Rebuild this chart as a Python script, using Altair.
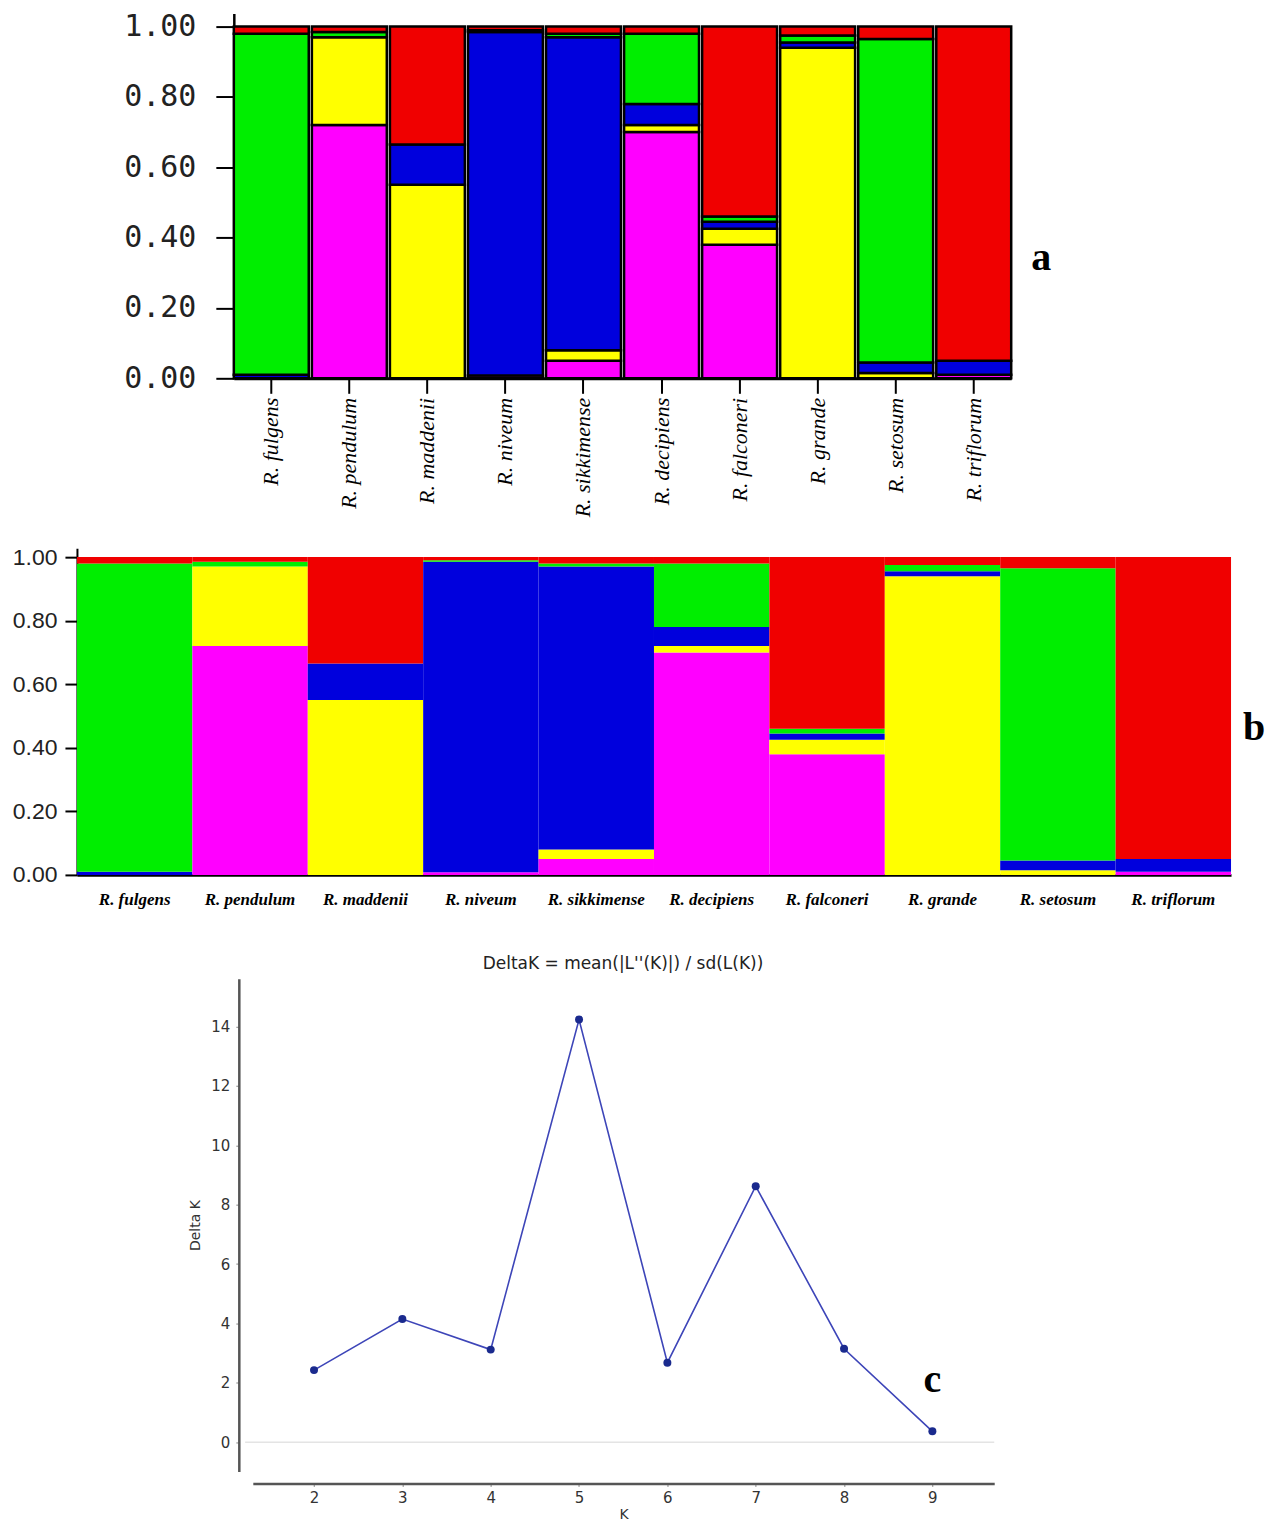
import altair as alt
import pandas as pd

# ---------------- data ----------------
species = ["R. fulgens", "R. pendulum", "R. maddenii", "R. niveum", "R. sikkimense",
           "R. decipiens", "R. falconeri", "R. grande", "R. setosum", "R. triflorum"]

cluster_names = ["Cluster 1", "Cluster 2", "Cluster 3", "Cluster 4", "Cluster 5"]
cluster_colors = ["#ff00ff", "#ffff00", "#0000dd", "#00ee00", "#f00000"]

# membership proportions (bottom -> top order: magenta, yellow, blue, green, red)
q_magenta = [0.00, 0.72, 0.00, 0.008, 0.05, 0.70, 0.38, 0.00, 0.00, 0.01]
q_yellow = [0.00, 0.25, 0.55, 0.00, 0.03, 0.02, 0.045, 0.94, 0.015, 0.00]
q_blue = [0.01, 0.00, 0.115, 0.977, 0.89, 0.06, 0.02, 0.015, 0.03, 0.04]
q_green = [0.97, 0.015, 0.00, 0.005, 0.01, 0.20, 0.015, 0.02, 0.92, 0.00]
q_red = [0.02, 0.015, 0.335, 0.01, 0.02, 0.02, 0.54, 0.025, 0.035, 0.95]

k_values = [2, 3, 4, 5, 6, 7, 8, 9]
delta_k = [2.43, 4.15, 3.12, 14.23, 2.68, 8.62, 3.15, 0.37]

y_ticks_q = [0.0, 0.2, 0.4, 0.6, 0.8, 1.0]
y_ticks_k = [0, 2, 4, 6, 8, 10, 12, 14]

# ---------------- tables ----------------
rows = []
for i, sp in enumerate(species):
    for j, vals in enumerate([q_magenta, q_yellow, q_blue, q_green, q_red]):
        rows.append({"species": sp, "cluster": cluster_names[j], "k": j, "q": vals[i]})
df = pd.DataFrame(rows)
df_k = pd.DataFrame({"K": k_values, "dk": delta_k})
df_zero = pd.DataFrame({"y": [0], "x0": [1.22], "x1": [9.7]})

color_enc = alt.Color("cluster:N", scale=alt.Scale(domain=cluster_names, range=cluster_colors), legend=None)

W = 1155

# ---------------- panel a ----------------
bars_a = alt.Chart(df).transform_filter("datum.q > 0").mark_bar(
    stroke="black", strokeWidth=2.5
).encode(
    x=alt.X("species:N", sort=species,
            scale=alt.Scale(range=[157, 935], paddingInner=0.04, paddingOuter=0),
            axis=alt.Axis(title=None, labelAngle=270, labelFont="Liberation Serif",
                          labelFontStyle="italic", labelFontSize=22, labelColor="black",
                          tickSize=15, tickColor="black", tickWidth=2,
                          domainColor="black", domainWidth=3, labelPadding=4)),
    y=alt.Y("q:Q", stack="zero",
            scale=alt.Scale(domain=[0, 1.037], nice=False),
            axis=alt.Axis(title=None, values=y_ticks_q, format=".2f", offset=-157,
                          labelFont="DejaVu Sans Mono", labelFontSize=30, labelColor="#222",
                          labelPadding=20, tickSize=18, tickColor="black", tickWidth=2,
                          domainColor="black", domainWidth=2.5)),
    color=color_enc,
    order=alt.Order("k:Q", sort="ascending"),
)
lab_a = alt.Chart(pd.DataFrame({"t": ["a"]})).mark_text(
    font="Liberation Serif", fontWeight="bold", fontSize=40, color="black"
).encode(text="t:N", x=alt.value(965), y=alt.value(245))
panel_a = alt.layer(bars_a, lab_a).properties(width=W, height=365)

# ---------------- panel b ----------------
bars_b = alt.Chart(df).transform_filter("datum.q > 0").mark_bar().encode(
    x=alt.X("species:N", sort=species,
            scale=alt.Scale(paddingInner=0, paddingOuter=0),
            axis=alt.Axis(title=None, labelAngle=0, labelFont="Liberation Serif",
                          labelFontStyle="italic", labelFontWeight="bold", labelFontSize=17,
                          labelColor="black", ticks=False, labelPadding=17,
                          domainColor="black", domainWidth=2.5)),
    y=alt.Y("q:Q", stack="zero",
            scale=alt.Scale(domain=[0, 1.028], nice=False),
            axis=alt.Axis(title=None, values=y_ticks_q, format=".2f",
                          labelFont="Liberation Sans", labelFontSize=23,
                          labelColor="#222", labelPadding=8, tickSize=12, tickColor="black",
                          tickWidth=2, domainColor="black", domainWidth=2)),
    color=color_enc,
    order=alt.Order("k:Q", sort="ascending"),
)
lab_b = alt.Chart(pd.DataFrame({"t": ["b"]})).mark_text(
    font="Liberation Serif", fontWeight="bold", fontSize=40, color="black"
).encode(text="t:N", x=alt.value(1178), y=alt.value(180))
panel_b = alt.layer(bars_b, lab_b).properties(width=W, height=327)

# ---------------- panel c ----------------
xk = alt.X("K:Q", scale=alt.Scale(domain=[1.307, 9.70], range=[176, 918], nice=False, zero=False),
           axis=alt.Axis(title="K", values=k_values, format="d", offset=12, labelFont="DejaVu Sans",
                         labelFontSize=15, labelColor="#333", tickSize=3, tickColor="#888",
                         domainColor="#555", domainWidth=2.5, titleFont="DejaVu Sans",
                         titleFontSize=14, titleFontWeight="normal", titleColor="#333",
                         titlePadding=2, labelPadding=4, grid=False))
yk = alt.Y("dk:Q", scale=alt.Scale(domain=[-0.98, 15.6], nice=False, zero=False),
           axis=alt.Axis(title="Delta K", values=y_ticks_k, format="d", offset=-162,
                         labelFont="DejaVu Sans", labelFontSize=15, labelColor="#333",
                         tickSize=3, tickColor="#888",
                         domainColor="#555", domainWidth=2.5, titleFont="DejaVu Sans",
                         titleFontSize=14, titleFontWeight="normal", titleColor="#333",
                         titlePadding=8, labelPadding=6, grid=False))

zero_rule = alt.Chart(df_zero).mark_rule(color="#e4e4e4", strokeWidth=1.5).encode(
    y=alt.Y("y:Q"), x=alt.X("x0:Q"), x2="x1:Q")
line_c = alt.Chart(df_k).mark_line(color="#3d45b8", strokeWidth=1.6).encode(x=xk, y=yk)
pts_c = alt.Chart(df_k).mark_circle(color="#1a2a8e", size=64, opacity=1).encode(x="K:Q", y="dk:Q")
lab_c = alt.Chart(pd.DataFrame({"t": ["c"], "K": [9.0], "dk": [2.1]})).mark_text(
    font="Liberation Serif", fontWeight="bold", fontSize=40, color="black"
).encode(text="t:N", x="K:Q", y="dk:Q")

panel_c = alt.layer(line_c, zero_rule, pts_c, lab_c).properties(
    width=W, height=493,
    title=alt.TitleParams("DeltaK = mean(|L''(K)|) / sd(L(K))", font="DejaVu Sans",
                          fontSize=17, fontWeight="normal", color="#222",
                          anchor="middle", dx=-31, offset=6),
)

top = alt.vconcat(panel_a, panel_b, spacing=28)
chart = alt.vconcat(top, panel_c, spacing=47).properties(
    padding={"left": 4, "top": 3, "right": 0, "bottom": 0},
    background="white",
).configure_view(strokeWidth=0).configure_axis(grid=False)

chart.save("out.html", embed_options={"renderer": "svg", "actions": False})
